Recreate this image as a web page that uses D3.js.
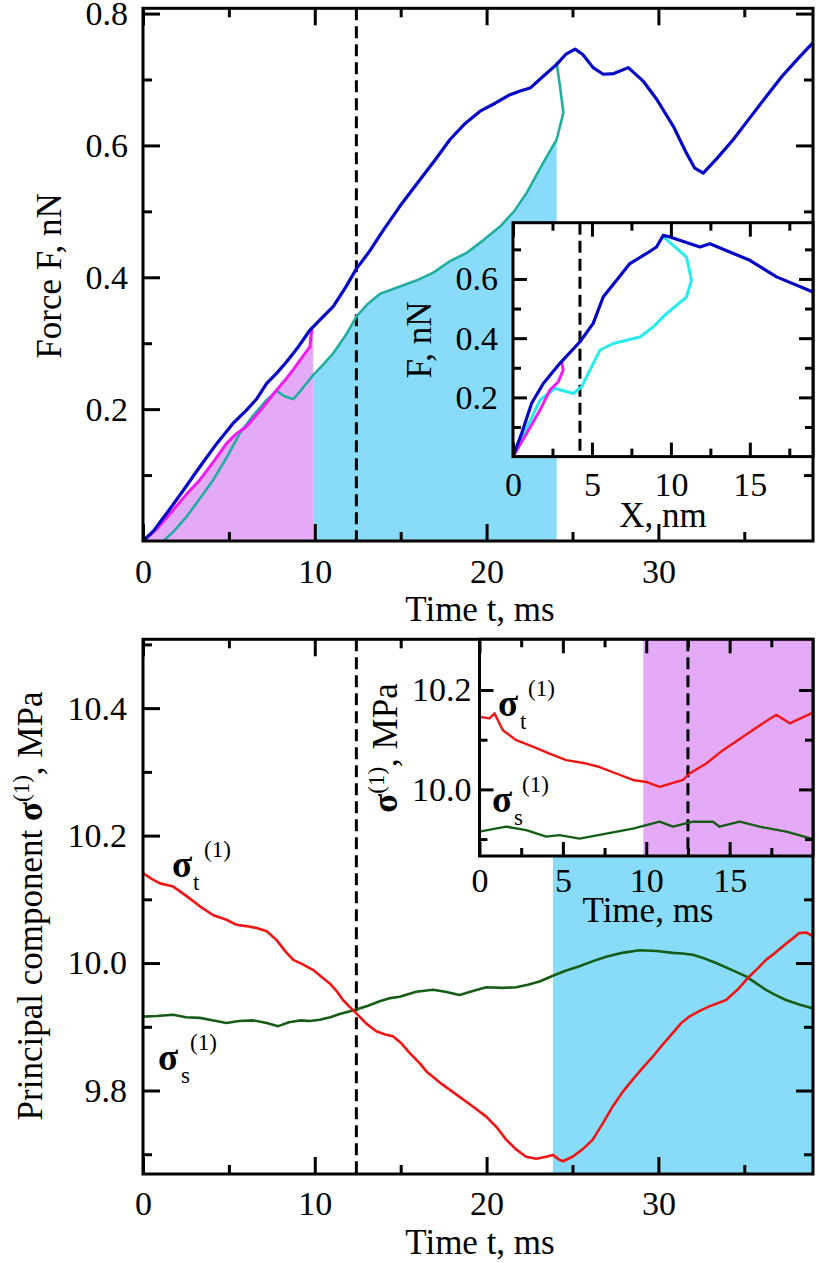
<!DOCTYPE html>
<html><head><meta charset="utf-8">
<script src="https://cdn.jsdelivr.net/npm/d3@7"></script>
<style>body{margin:0;background:#fff} svg{display:block}</style>
</head><body><svg id="c" width="819" height="1263"></svg>
<script>
// ---------------- DATA ----------------
// Top panel: force vs time (t in ms, F in nN)
const forceBlue = [[0,0],[0.6,0.015],[1.38,0.042],[2.3,0.075],[3.32,0.113],[4.3,0.148],[5.26,0.179],[6.04,0.199],[6.6,0.215],[7.2,0.239],[7.8,0.255],[8.36,0.272],[9.0,0.293],[9.72,0.32],[10.4,0.338],[11.08,0.356],[11.8,0.385],[12.4,0.412],[13.2,0.44],[14.0,0.472],[14.96,0.508],[16.12,0.548],[17.0,0.578],[17.87,0.609],[18.7,0.632],[19.62,0.652],[20.5,0.664],[21.36,0.677],[22.0,0.683],[22.53,0.687],[23.3,0.705],[24.08,0.723],[24.6,0.738],[25.15,0.746],[25.6,0.738],[26.2,0.718],[26.79,0.708],[27.4,0.709],[28.25,0.718],[29.1,0.698],[29.9,0.67],[30.87,0.629],[31.6,0.59],[32.1,0.566],[32.61,0.558],[33.4,0.58],[34.36,0.609],[35.3,0.641],[36.3,0.675],[37.2,0.705],[38.1,0.731],[39.0,0.756]];
const forceMagenta = [[0,0],[0.8,0.018],[1.76,0.047],[2.5,0.07],[3.32,0.093],[4.1,0.12],[4.87,0.148],[5.4,0.162],[6.04,0.174],[6.9,0.2],[7.78,0.229],[8.3,0.245],[8.75,0.26],[9.25,0.278],[9.72,0.295],[9.82,0.323]];
const forceTeal = [[1.18,0],[1.8,0.015],[2.54,0.037],[3.3,0.064],[4.1,0.093],[4.9,0.128],[5.65,0.164],[6.4,0.19],[7.2,0.214],[7.78,0.228],[8.2,0.22],[8.75,0.215],[9.3,0.232],[9.91,0.252],[10.5,0.268],[11.08,0.285],[11.8,0.312],[12.44,0.341],[13.1,0.36],[13.8,0.375],[14.96,0.386],[15.9,0.395],[16.9,0.407],[17.9,0.425],[18.84,0.437],[19.8,0.456],[20.78,0.477],[21.6,0.5],[22.33,0.528],[23.3,0.574],[24.08,0.609],[24.47,0.65],[24.27,0.69],[24.08,0.725]];
// Top inset: force vs displacement X (nm)
const insetBlue = [[0,0],[0.55,0.079],[1.18,0.18],[1.92,0.247],[2.97,0.315],[4.24,0.388],[5.08,0.45],[5.72,0.54],[6.56,0.596],[7.4,0.652],[8.46,0.686],[9.09,0.708],[9.51,0.747],[9.94,0.742],[11.84,0.708],[12.47,0.719],[15.0,0.663],[16.69,0.607],[19.0,0.556]];
const insetCyan = [[0,0],[0.9,0.1],[1.71,0.191],[2.66,0.23],[3.82,0.213],[4.35,0.236],[5.51,0.36],[6.35,0.382],[8.04,0.404],[8.88,0.438],[9.72,0.483],[10.99,0.539],[11.3,0.596],[10.99,0.674],[9.53,0.742]];
const insetMagenta = [[0,0],[0.87,0.079],[1.71,0.157],[2.34,0.225],[2.87,0.253],[3.18,0.292],[3.1,0.315]];
// Bottom panel: principal stress component (MPa) vs time (ms)
const sigmaT = [[0,10.141],[0.5,10.132],[0.99,10.125],[1.76,10.12],[2.54,10.105],[3.31,10.089],[4.1,10.075],[4.86,10.068],[5.45,10.06],[6.0,10.058],[6.62,10.055],[7.2,10.05],[7.78,10.036],[8.3,10.018],[8.75,10.005],[9.3,9.998],[9.91,9.989],[10.4,9.978],[10.87,9.968],[11.3,9.955],[11.64,9.942],[12.0,9.932],[12.42,9.921],[13.0,9.905],[13.58,9.893],[14.1,9.888],[14.55,9.885],[15.0,9.875],[15.52,9.859],[16.1,9.843],[16.5,9.83],[17.4,9.81],[18.43,9.79],[19.2,9.775],[19.98,9.759],[20.6,9.742],[21.14,9.723],[21.7,9.708],[22.3,9.696],[22.9,9.693],[23.47,9.696],[23.86,9.699],[24.2,9.692],[24.44,9.689],[25.0,9.696],[25.6,9.708],[26.18,9.723],[26.8,9.75],[27.34,9.775],[27.9,9.797],[28.5,9.817],[29.1,9.836],[29.67,9.853],[30.25,9.872],[30.83,9.89],[31.3,9.905],[31.8,9.916],[32.4,9.925],[32.97,9.932],[33.94,9.942],[34.6,9.958],[35.29,9.979],[35.8,9.992],[36.26,10.005],[36.8,10.016],[37.23,10.026],[37.7,10.036],[38.2,10.047],[38.6,10.048],[39.0,10.042]];
const sigmaS = [[0,9.916],[0.8,9.917],[1.75,9.919],[2.5,9.915],[3.31,9.914],[4.1,9.91],[4.86,9.906],[5.6,9.909],[6.42,9.91],[7.2,9.906],[7.87,9.901],[8.5,9.907],[9.13,9.91],[9.7,9.909],[10.29,9.911],[10.9,9.915],[11.45,9.92],[12.0,9.924],[12.42,9.927],[13.1,9.933],[13.78,9.94],[14.4,9.945],[14.94,9.947],[15.91,9.955],[16.88,9.958],[17.6,9.955],[18.43,9.95],[19.2,9.956],[19.98,9.962],[20.9,9.961],[21.72,9.962],[22.4,9.966],[23.08,9.971],[23.86,9.98],[24.6,9.988],[25.41,9.995],[26.2,10.003],[26.96,10.01],[27.9,10.016],[28.9,10.02],[29.9,10.019],[30.84,10.016],[31.4,10.015],[32.0,10.013],[32.7,10.007],[33.36,10.0],[34.2,9.99],[35.1,9.979],[35.7,9.968],[36.26,9.958],[36.8,9.95],[37.42,9.942],[38.2,9.935],[38.97,9.929]];
// Bottom inset
const insetSigmaT = [[0,10.146],[0.6,10.143],[0.9,10.153],[1.4,10.119],[2.2,10.099],[3.2,10.086],[4.2,10.072],[5.2,10.059],[6.4,10.052],[7.2,10.045],[8.2,10.032],[9.2,10.019],[10.0,10.015],[10.8,10.005],[11.6,10.013],[12.2,10.019],[12.6,10.032],[13.6,10.052],[14.6,10.079],[15.8,10.106],[17.0,10.133],[17.8,10.15],[18.6,10.133],[19.9,10.153]];
const insetSigmaS = [[0,9.915],[1.6,9.925],[2.8,9.918],[4.0,9.905],[4.8,9.908],[6.0,9.901],[7.6,9.911],[9.2,9.921],[10.8,9.935],[11.6,9.925],[12.8,9.935],[14.0,9.935],[14.4,9.925],[15.6,9.935],[16.8,9.925],[18.4,9.915],[19.9,9.901]];

// markers / bands
const dashT = 12.42, dashX = 4.24, dashInsetT = 12.5;
const pinkBandEnd = 9.91, blueBandEnd = 24.08, botBandStart = 23.86, insetBandStart = 9.82;

// ticks
const tMajor = [0,10,20,30], tMinor = [5,15,25,35];
const fMajor = [0.2,0.4,0.6,0.8], fMinor = [0.1,0.3,0.5,0.7];
const xInMajor = [0,5,10,15], xInMinor = [2.5,7.5,12.5,17.5];
const fInMajor = [0.2,0.4,0.6], fInMinor = [0.1,0.3,0.5,0.7];
const sMajor = [9.8,10.0,10.2,10.4], sMinor = [9.7,9.9,10.1,10.3,10.5];
const tInMajor = [0,5,10,15], tInMinor = [2.5,7.5,12.5,17.5];
const sInMajor = [10.0,10.2], sInMinor = [9.9,10.1];

// colors
const C = {blue:"#0505c8", magenta:"#f01cf0", teal:"#22ae9e", cyan:"#28ecec",
  pink:"#e4aaf8", sky:"#88dcfa", red:"#f01414", green:"#165c16"};

// ---------------- DRAW ----------------
const FONT = '"Liberation Serif","Times New Roman",Times,serif';
const TICK = 34, TITLE = 35;
const svg = d3.select("#c");
let clipId = 0;

function scales(box, xd, yd){
  return {x: d3.scaleLinear().domain(xd).range([box.l, box.r]),
          y: d3.scaleLinear().domain(yd).range([box.b, box.t])};
}
function clipG(box){
  const id = "clip"+(clipId++);
  svg.append("clipPath").attr("id",id).append("rect")
    .attr("x",box.l).attr("y",box.t).attr("width",box.r-box.l).attr("height",box.b-box.t);
  return svg.append("g").attr("clip-path",`url(#${id})`);
}
function styleAxis(sel){
  sel.select(".domain").remove();
  sel.attr("font-family",FONT).attr("font-size",TICK);
  sel.selectAll("line").attr("stroke","#000").attr("stroke-width",3);
  sel.selectAll("text").attr("fill","#000");
}
function axes(box, s, o){
  const g = svg.append("g");
  const add = (fn, sc, vals, len, tr, fmt, pad) => {
    g.append("g").attr("transform",tr)
      .call(fn(sc).tickValues(vals).tickSize(-len).tickPadding(pad||0).tickFormat(fmt||(()=>"")))
      .call(styleAxis);
  };
  add(d3.axisBottom, s.x, o.xMaj, o.maj, `translate(0,${box.b})`, o.xFmt, o.xPad);
  add(d3.axisBottom, s.x, o.xMin, o.min, `translate(0,${box.b})`);
  add(d3.axisTop, s.x, o.xMaj, o.maj, `translate(0,${box.t})`);
  add(d3.axisTop, s.x, o.xMin, o.min, `translate(0,${box.t})`);
  add(d3.axisLeft, s.y, o.yMaj, o.maj, `translate(${box.l},0)`, o.yFmt, o.yPad);
  add(d3.axisLeft, s.y, o.yMin, o.min, `translate(${box.l},0)`);
  add(d3.axisRight, s.y, o.yMaj, o.maj, `translate(${box.r},0)`);
  add(d3.axisRight, s.y, o.yMin, o.min, `translate(${box.r},0)`);
  g.append("rect").attr("x",box.l).attr("y",box.t).attr("width",box.r-box.l).attr("height",box.b-box.t)
    .attr("fill","none").attr("stroke","#000").attr("stroke-width",3);
}
function line(g, s, data, color, w){
  g.append("path").datum(data).attr("fill","none").attr("stroke",color).attr("stroke-width",w)
    .attr("stroke-linejoin","round").attr("stroke-linecap","round")
    .attr("d", d3.line().x(d=>s.x(d[0])).y(d=>s.y(d[1])));
}
function dashed(g, s, xv, box){
  g.append("line").attr("x1",s.x(xv)).attr("x2",s.x(xv)).attr("y1",box.t).attr("y2",box.b)
    .attr("stroke","#000").attr("stroke-width",3).attr("stroke-dasharray","12,6");
}
function text(x, y, str, o){
  o = o||{};
  const t = svg.append("text").attr("font-family",FONT).attr("font-size",o.size||TITLE)
    .attr("text-anchor",o.anchor||"middle").attr("fill","#000")
    .attr("font-weight",o.bold?"bold":null);
  if(o.rot) t.attr("transform",`translate(${x},${y}) rotate(-90)`);
  else t.attr("x",x).attr("y",y);
  if(typeof str === "string") t.text(str);
  else str.forEach(p=>{ const ts=t.append("tspan").text(p.t);
    if(p.size) ts.attr("font-size",p.size); if(p.dy) ts.attr("dy",p.dy);
    if(p.bold) ts.attr("font-weight","bold"); });
  return t;
}

// ===== Top main panel =====
const topBox = {l:143, r:813, t:8.3, b:541};
const sTop = scales(topBox, [0,39], [0,0.808]);
const gTop = clipG(topBox);
const pinkData = forceMagenta.filter(d=>d[0]<=pinkBandEnd).concat([[pinkBandEnd, forceMagenta[forceMagenta.length-1][1]]]);
gTop.append("path").datum(pinkData).attr("fill",C.pink)
  .attr("d", d3.area().x(d=>sTop.x(d[0])).y0(sTop.y(0)).y1(d=>sTop.y(d[1])));
const iEnd = forceTeal.findIndex(d=>d[0]>=blueBandEnd);
const skyData = forceTeal.slice(0, iEnd+1).filter(d=>d[0]>=pinkBandEnd);
gTop.append("path").datum(skyData).attr("fill",C.sky)
  .attr("d", d3.area().x(d=>sTop.x(d[0])).y0(sTop.y(0)).y1(d=>sTop.y(d[1])));
dashed(gTop, sTop, dashT, topBox);
line(gTop, sTop, forceTeal, C.teal, 2.6);
line(gTop, sTop, forceMagenta, C.magenta, 3);
line(gTop, sTop, forceBlue, C.blue, 3.2);
axes(topBox, sTop, {xMaj:tMajor, xMin:tMinor, yMaj:fMajor, yMin:fMinor, maj:17, min:9,
  xFmt:d3.format("d"), yFmt:d3.format(".1f"), xPad:18, yPad:15});

// ===== Top inset =====
const tiBox = {l:513, r:813, t:222.7, b:456.6};
const sTi = scales(tiBox, [0,19], [0,0.79]);
svg.append("rect").attr("x",tiBox.l).attr("y",tiBox.t).attr("width",tiBox.r-tiBox.l).attr("height",tiBox.b-tiBox.t).attr("fill","#fff");
const gTi = clipG(tiBox);
dashed(gTi, sTi, dashX, tiBox);
line(gTi, sTi, insetCyan, C.cyan, 3);
line(gTi, sTi, insetMagenta, C.magenta, 3);
line(gTi, sTi, insetBlue, C.blue, 3.2);
axes(tiBox, sTi, {xMaj:xInMajor, xMin:xInMinor, yMaj:fInMajor, yMin:fInMinor, maj:14, min:8,
  xFmt:d3.format("d"), yFmt:d3.format(".1f"), xPad:15, yPad:15});

// ===== Bottom main panel =====
const botBox = {l:143, r:813, t:639.3, b:1174};
const sBot = scales(botBox, [0,39], [9.669,10.508]);
const gBot = clipG(botBox);
gBot.append("rect").attr("x",sBot.x(botBandStart)).attr("y",botBox.t)
  .attr("width",sBot.x(39)-sBot.x(botBandStart)).attr("height",botBox.b-botBox.t).attr("fill",C.sky);
dashed(gBot, sBot, dashT, botBox);
line(gBot, sBot, sigmaS, C.green, 2.6);
line(gBot, sBot, sigmaT, C.red, 2.6);
axes(botBox, sBot, {xMaj:tMajor, xMin:tMinor, yMaj:sMajor, yMin:sMinor, maj:17, min:9,
  xFmt:d3.format("d"), yFmt:d3.format(".1f"), xPad:17, yPad:16});

// ===== Bottom inset =====
const biBox = {l:479.5, r:813, t:639.3, b:856};
const sBi = scales(biBox, [0,20], [9.866,10.302]);
svg.append("rect").attr("x",biBox.l).attr("y",biBox.t).attr("width",biBox.r-biBox.l).attr("height",biBox.b-biBox.t).attr("fill","#fff");
const gBi = clipG(biBox);
gBi.append("rect").attr("x",sBi.x(insetBandStart)).attr("y",biBox.t)
  .attr("width",sBi.x(20)-sBi.x(insetBandStart)).attr("height",biBox.b-biBox.t).attr("fill",C.pink);
dashed(gBi, sBi, dashInsetT, biBox);
line(gBi, sBi, insetSigmaS, C.green, 2.4);
line(gBi, sBi, insetSigmaT, C.red, 2.4);
axes(biBox, sBi, {xMaj:tInMajor, xMin:tInMinor, yMaj:sInMajor, yMin:sInMinor, maj:14, min:8,
  xFmt:d3.format("d"), yFmt:d3.format(".1f"), xPad:12, yPad:8});

// ===== Titles =====
text(480, 621, "Time t, ms");
text(61, 276, "Force F, nN", {rot:true});
text(663, 527, "X, nm");
text(431, 340, "F, nN", {rot:true});
text(480, 1254, "Time t, ms");
text(42, 906, [{t:"Principal component "},{t:"σ",bold:true},{t:"(1)",size:23,dy:-13},{t:", MPa",dy:13}], {rot:true});
text(648, 922, "Time, ms");
text(397, 748, [{t:"σ",bold:true},{t:"(1)",size:23,dy:-13},{t:", MPa",dy:13}], {rot:true});

// sigma labels
function sigLab(x, y, sub, subDx, supDx){
  text(x, y, "σ", {anchor:"start", size:37, bold:true});
  text(x+subDx, y+13, sub, {anchor:"start", size:23});
  text(x+supDx, y-20, "(1)", {anchor:"start", size:23});
}
sigLab(172, 877, "t", 21, 32);
sigLab(158, 1070, "s", 23, 32);
sigLab(498, 716, "t", 22, 30);
sigLab(492, 812, "s", 22, 30);
</script></body></html>
